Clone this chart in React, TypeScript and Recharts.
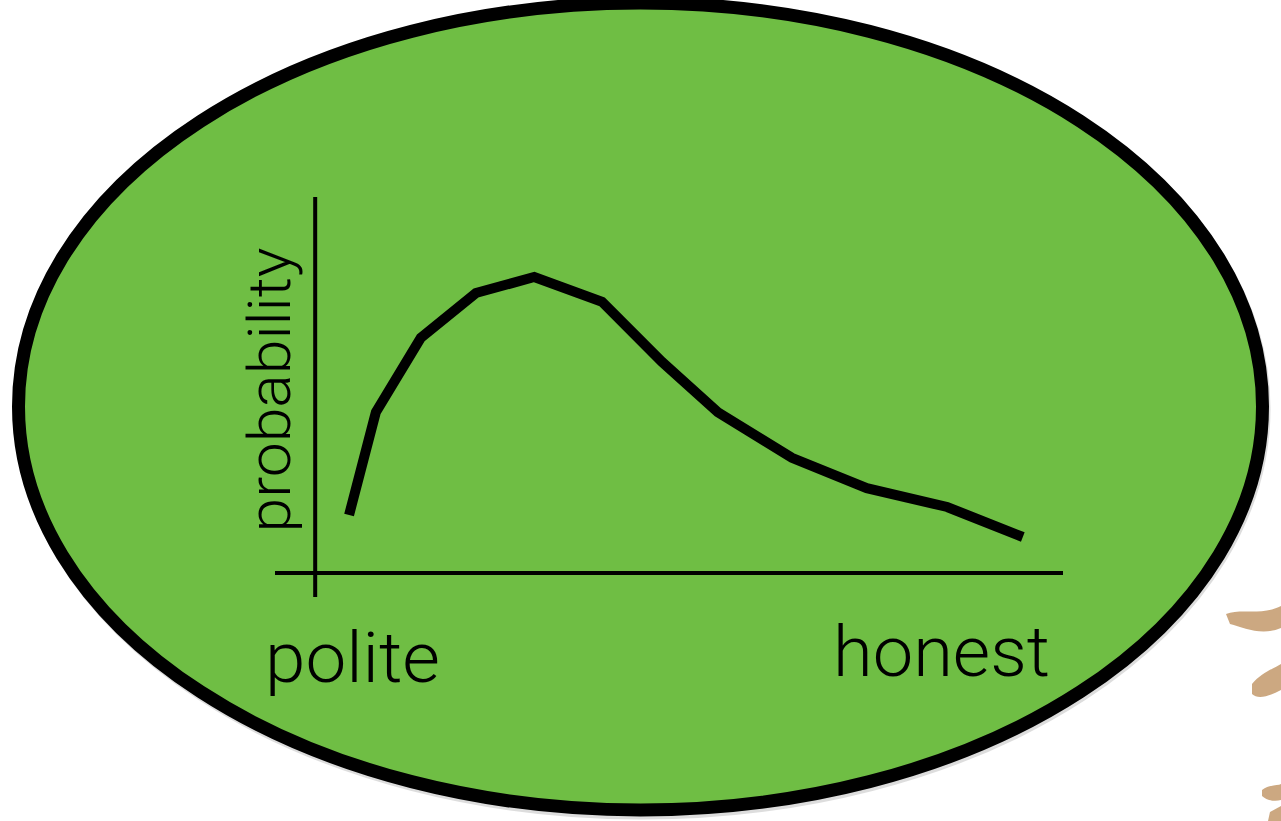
import * as React from 'react';
import { LineChart, Line, XAxis, YAxis, ReferenceLine, Customized } from 'recharts';

// position on the polite -> honest scale (0..100)
const honesty = [9.4, 12.8, 18.5, 25.5, 32.9, 41.5, 49.1, 56.2, 65.6, 75.1, 85.3, 94.9];
// probability of each position (0..100)
const probability = [20.5, 46.2, 64.8, 76, 80, 73.8, 58.8, 46.2, 34.8, 27.2, 22.5, 15];

const xLabels = ['polite', 'honest'];
const yLabel = 'probability';

// where the hand drawn axes cross
const yAxisAt = 5.1;
const xAxisAt = 6;

const data = honesty.map((x, i) => ({ x, p: probability[i] }));

const W = 1281;
const H = 821;
const FONT = "'Helvetica Neue', Roboto, 'Open Sans', sans-serif";

const Labels = () => (
  <g fill="#000" fontFamily={FONT} fontWeight={300}>
    <text transform="rotate(-90)" x={-390} y={290} fontSize={60} textAnchor="middle"
      textLength={285} lengthAdjust="spacingAndGlyphs">{yLabel}</text>
    <text x={265} y={682} fontSize={70} textLength={175} lengthAdjust="spacingAndGlyphs">{xLabels[0]}</text>
    <text x={833} y={676} fontSize={70} textLength={217} lengthAdjust="spacingAndGlyphs">{xLabels[1]}</text>
  </g>
);

const Backdrop = () => (
  <svg width={W} height={H} style={{ position: 'absolute', left: 0, top: 0 }}>
    <ellipse cx={642} cy={409} rx={622} ry={404} fill="none" stroke="#bbb" strokeWidth={13} opacity={0.5} />
    <ellipse cx={640.5} cy={406.5} rx={622} ry={403.5} fill="#6fbe44" stroke="#000" strokeWidth={13} />
    <g fill="#c49a6c" opacity={0.85}>
      <path d="M1226,614 C1240,608 1262,616 1281,606 L1281,628 C1262,636 1244,628 1230,624 Z" />
      <path d="M1252,684 C1262,672 1275,668 1281,664 L1281,690 C1270,696 1258,700 1252,694 Z" />
      <path d="M1262,790 C1270,784 1278,786 1281,784 L1281,800 C1274,802 1266,800 1262,796 Z" />
      <path d="M1270,812 L1281,806 L1281,821 L1268,821 Z" />
    </g>
  </svg>
);

export default function App() {
  return (
    <div style={{ position: 'absolute', left: 0, top: 0, width: W, height: H, background: '#fff' }}>
      <Backdrop />
      <div style={{ position: 'absolute', left: 0, top: 0 }}>
        <LineChart width={W} height={H} data={data} margin={{ top: 197, right: 218, bottom: 224, left: 275 }}>
          <XAxis type="number" dataKey="x" domain={[0, 100]} hide />
          <YAxis type="number" domain={[0, 100]} hide />
          <ReferenceLine segment={[{ x: yAxisAt, y: 0 }, { x: yAxisAt, y: 100 }]} stroke="#000" strokeWidth={4} />
          <ReferenceLine segment={[{ x: 0, y: xAxisAt }, { x: 100, y: xAxisAt }]} stroke="#000" strokeWidth={4} />
          <Line type="linear" dataKey="p" stroke="#000" strokeWidth={10} dot={false}
            strokeLinejoin="miter" strokeLinecap="butt" isAnimationActive={false} />
          <Customized component={Labels} />
        </LineChart>
      </div>
    </div>
  );
}
